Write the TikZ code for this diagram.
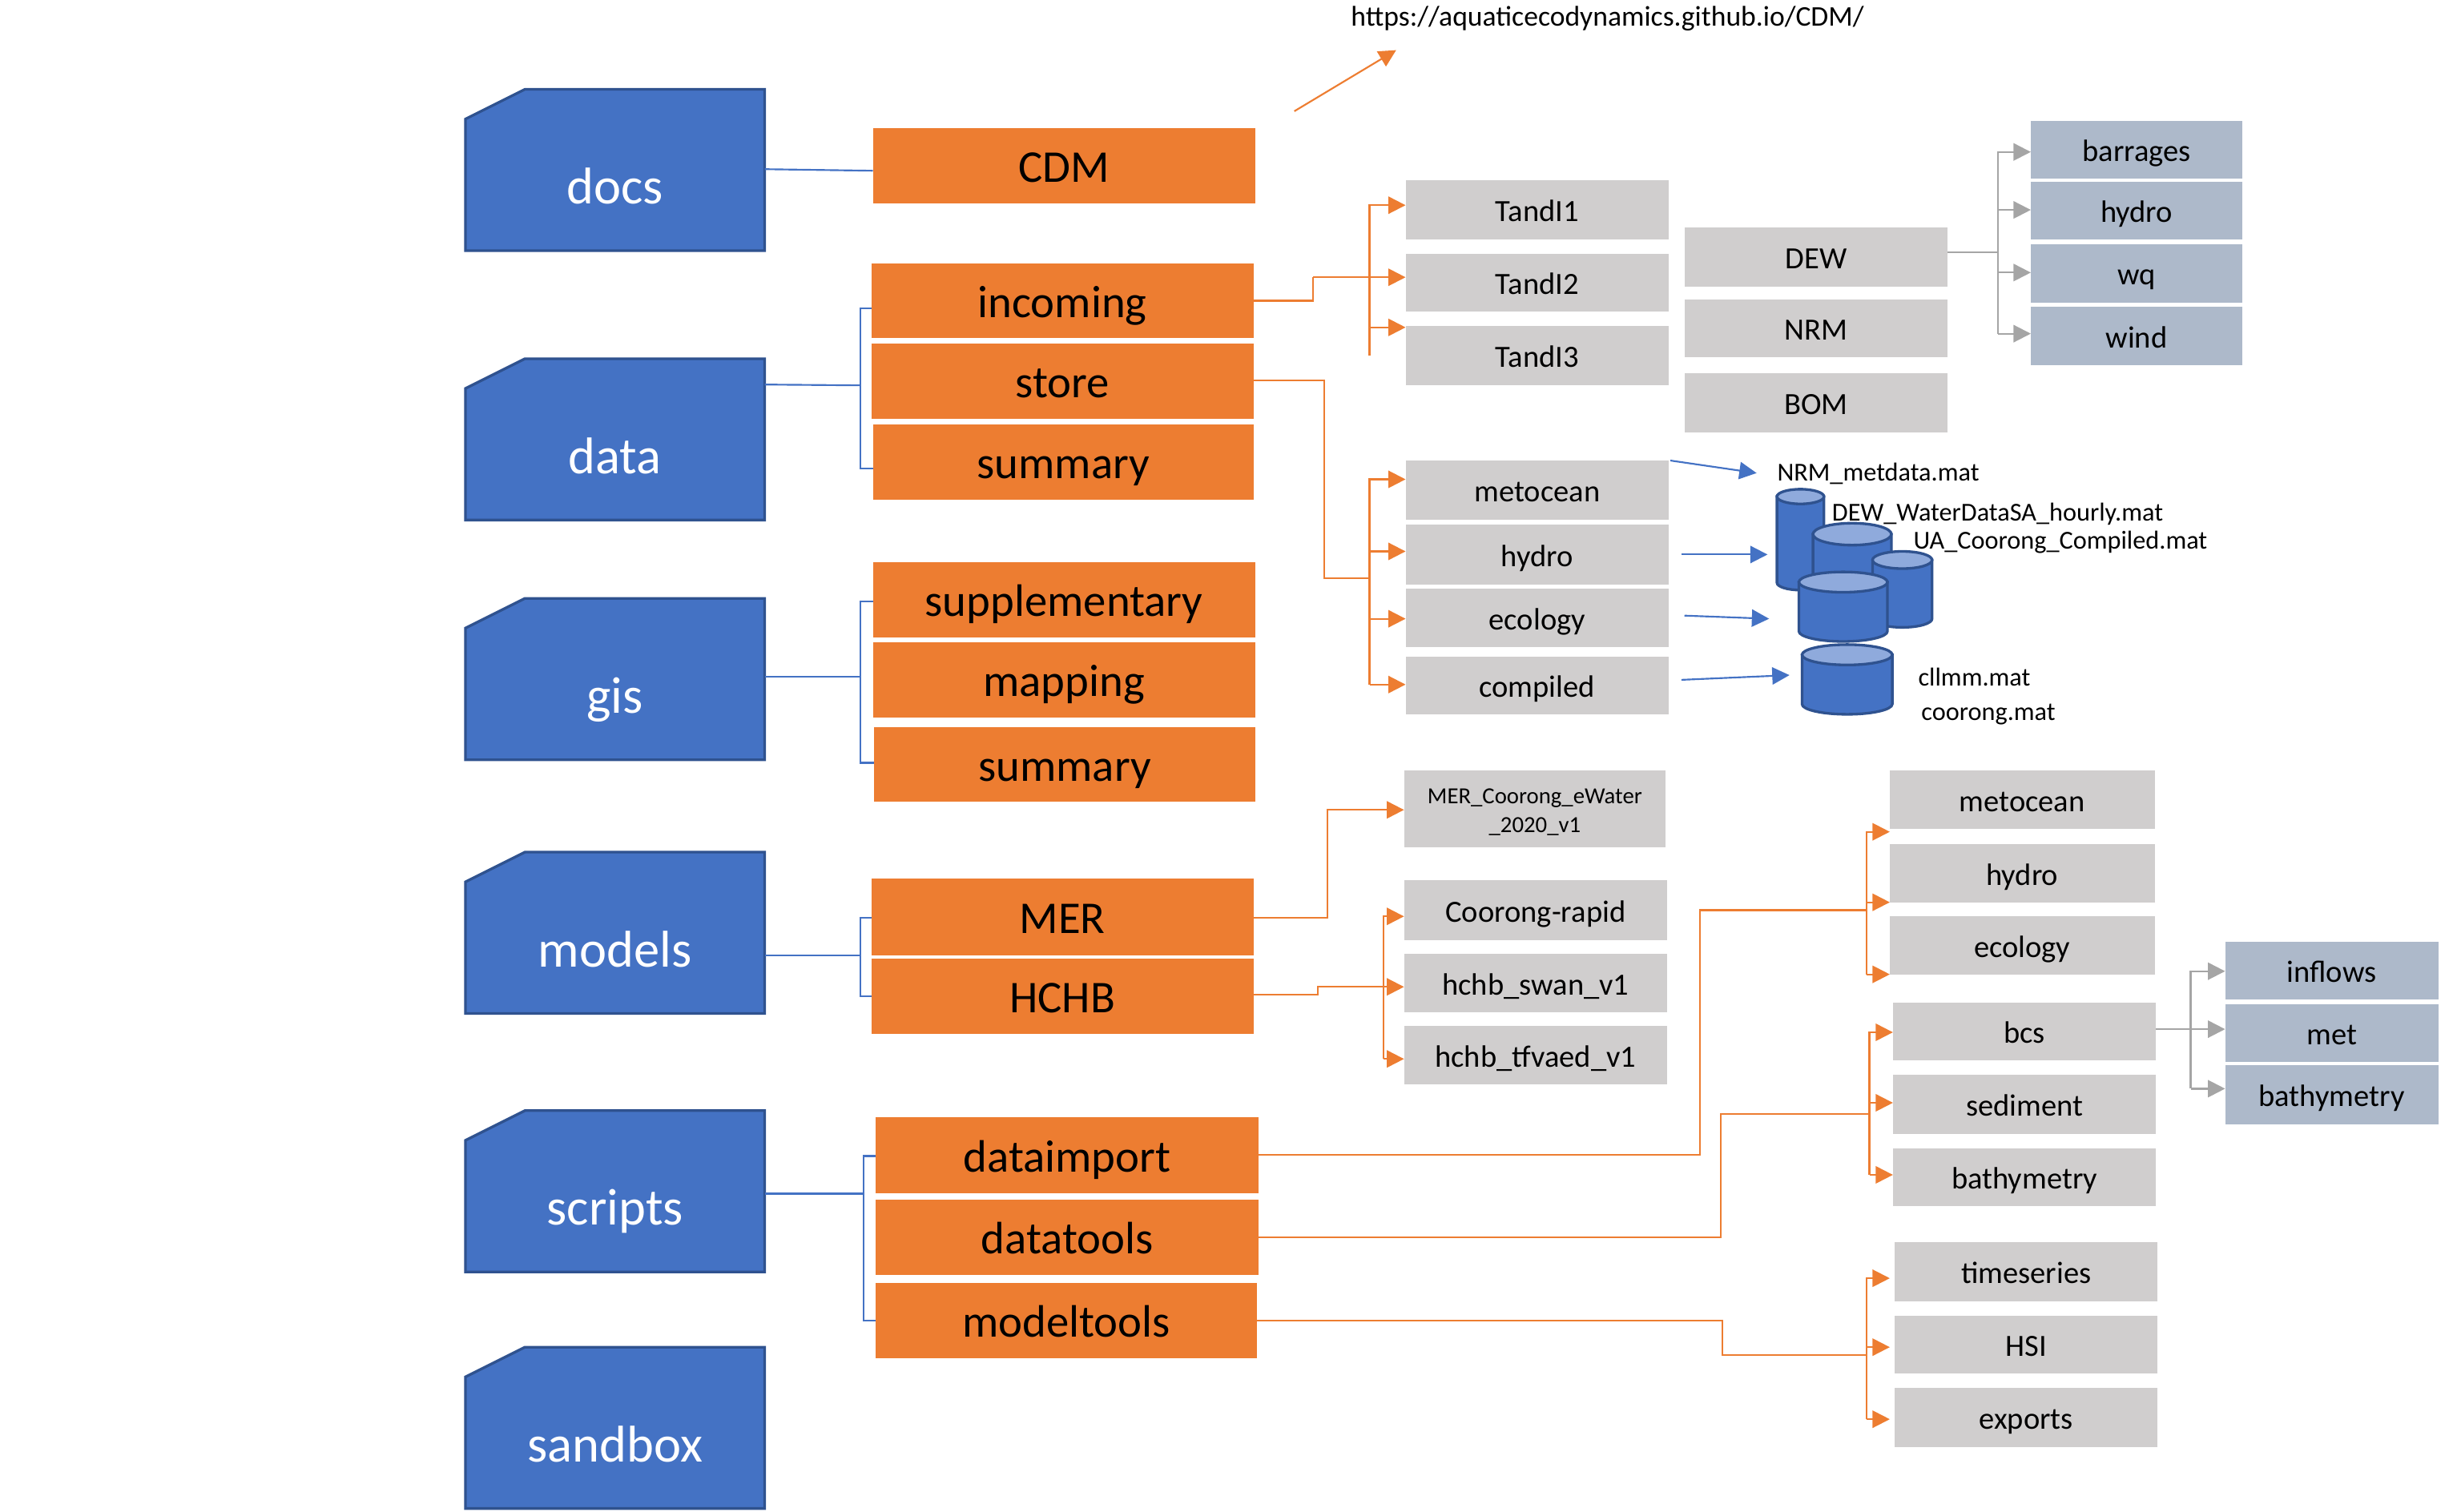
\documentclass[tikz,border=0pt]{standalone}
\usepackage{fontspec}
\setmainfont{Carlito}
\usetikzlibrary{arrows.meta}
\definecolor{cblue}{HTML}{4472C4}
\definecolor{cdark}{HTML}{2F528F}
\definecolor{clight}{HTML}{8FAADC}
\definecolor{corange}{HTML}{ED7D31}
\definecolor{cgray}{HTML}{D0CECE}
\definecolor{cbgray}{HTML}{ADB9CA}
\definecolor{carrow}{HTML}{A5A5A5}
\tikzset{
  x=1pt,y=-1pt,
  box/.style={rectangle,inner sep=0pt,outer sep=0pt,text=black,align=center},
  obox/.style={box,fill=corange,font=\fontsize{29}{32}\selectfont,text height=26pt,text depth=5pt},
  gbox/.style={box,fill=cgray,font=\fontsize{19.7}{22}\selectfont,text height=19pt,text depth=4pt},
  mbox/.style={box,fill=cgray,font=\fontsize{14.7}{18}\selectfont},
  bbox/.style={box,fill=cbgray,font=\fontsize{19.7}{22}\selectfont,text height=19pt,text depth=4pt},
  fshape/.style={fill=cblue,draw=cdark,line width=1.7pt},
  ftext/.style={text=white,font=\fontsize{33}{36}\selectfont,anchor=base,inner sep=0pt},
  filetext/.style={anchor=base west,inner sep=0pt,font=\fontsize{16.5}{18}\selectfont,text=black},
  tree/.style={draw=corange,line width=1.1pt},
  treearrow/.style={tree,-{Triangle[length=11pt,width=11pt]}},
  gtree/.style={draw=carrow,line width=1.1pt},
  gtreearrow/.style={gtree,-{Triangle[length=11pt,width=11pt]}},
  btree/.style={draw=cblue,line width=1.1pt},
  btreearrow/.style={btree,-{Triangle[length=11pt,width=11pt]}},
}
% name, x0, y0, text
\newcommand{\folder}[4]{%
  \draw[fshape] (#2,#3+19) -- (#2+38,#3) -- (#2+191,#3) -- (#2+191,#3+103) -- (#2,#3+103) -- cycle;
  \node[box,minimum width=191pt,minimum height=103pt] (#1) at (#2+95.5,#3+51.5) {};
  \node[ftext] (#1t) at (#2+95.5,#3+73.2) {#4};
}
% style, name, x0, x1, y0, y1, text
\newcommand{\bx}[7]{%
  \node[#1,minimum width={(#4-#3)*1pt},minimum height={(#6-#5)*1pt}] (#2) at ({(#3+#4)/2},{(#5+#6)/2}) {#7};
}
% x0,x1,ytop,ybot,ry
\newcommand{\cyl}[5]{%
  \draw[fill=cblue,draw=cdark,line width=1.7pt] (#1,#3) -- (#1,#4) arc[start angle=180,end angle=360,x radius={(#2-#1)/2*1pt},y radius=#5*1pt] -- (#2,#3) -- cycle;
  \draw[fill=clight,draw=cdark,line width=1.7pt] ({(#1+#2)/2},#3) ellipse[x radius={(#2-#1)/2*1pt},y radius=#5*1pt];
}
\begin{document}
\begin{tikzpicture}
\useasboundingbox (0,0) rectangle (1568,965.2);
% folders
\folder{docs}{297}{57}{docs}
\folder{data}{297}{229}{data}
\folder{gis}{297}{382}{gis}
\folder{models}{297}{544}{models}
\folder{scripts}{297}{709}{scripts}
\folder{sandbox}{297}{860}{sandbox}
% orange
\bx{obox}{cdm}{557}{801}{82}{130}{CDM}
\bx{obox}{incoming}{556}{800}{168}{216}{incoming}
\bx{obox}{store}{556}{800}{219.5}{267.5}{store}
\bx{obox}{summaryA}{557}{800}{271}{319}{summary}
\bx{obox}{supp}{557}{801}{359}{407}{supplementary}
\bx{obox}{mapping}{557}{801}{410}{458}{mapping}
\bx{obox}{summaryB}{558}{801}{464}{512}{summary}
\bx{obox}{mer}{556}{800}{561}{610}{MER}
\bx{obox}{hchb}{556}{800}{612}{660}{HCHB}
\bx{obox}{dataimport}{559}{803}{713}{762}{dataimport}
\bx{obox}{datatools}{559}{803}{766}{814}{datatools}
\bx{obox}{modeltools}{559}{802}{819}{867}{modeltools}
% gray
\bx{gbox}{tandA}{897}{1065}{115}{153}{TandI1}
\bx{gbox}{tandB}{897}{1065}{162}{199}{TandI2}
\bx{gbox}{tandC}{897}{1065}{208}{246}{TandI3}
\bx{gbox}{dew}{1075}{1243}{145}{183}{DEW}
\bx{gbox}{nrm}{1075}{1243}{191}{228}{NRM}
\bx{gbox}{bom}{1075}{1243}{238}{276}{BOM}
\bx{bbox}{barrages}{1296}{1431}{77}{114}{barrages}
\bx{bbox}{hydroB}{1296}{1431}{116}{153}{hydro}
\bx{bbox}{wq}{1296}{1431}{156}{193}{wq}
\bx{bbox}{wind}{1296}{1431}{196}{233}{wind}
\bx{gbox}{metoceanA}{897}{1065}{294}{332}{metocean}
\bx{gbox}{hydroA}{897}{1065}{335}{373}{hydro}
\bx{gbox}{ecologyA}{897}{1065}{376}{413}{ecology}
\bx{gbox}{compiled}{897}{1065}{419}{456}{compiled}
\bx{mbox,label={[yshift=-2pt,align=center,inner sep=0pt,font=\fontsize{14.7}{18}\selectfont]center:{MER\_Coorong\_eWater\\\_2020\_v1}}}{merfile}{896}{1063}{492}{541}{}
\bx{gbox}{rapid}{896}{1064}{562}{600}{Coorong-rapid}
\bx{gbox}{swan}{896}{1064}{609}{646}{hchb\_swan\_v1}
\bx{gbox}{tfvaed}{896}{1064}{655}{692}{hchb\_tfvaed\_v1}
\bx{gbox}{metoceanC}{1206}{1375}{492}{529}{metocean}
\bx{gbox}{hydroC}{1206}{1375}{539}{576}{hydro}
\bx{gbox}{ecologyC}{1206}{1375}{585}{622}{ecology}
\bx{gbox}{bcs}{1208}{1376}{640}{677}{bcs}
\bx{gbox}{sediment}{1208}{1376}{686}{724}{sediment}
\bx{gbox}{bathyA}{1208}{1376}{733}{770}{bathymetry}
\bx{gbox}{timeseries}{1209}{1377}{793}{831}{timeseries}
\bx{gbox}{hsi}{1209}{1377}{840}{877}{HSI}
\bx{gbox}{exports}{1209}{1377}{886}{924}{exports}
\bx{bbox}{inflows}{1420}{1556}{601}{638}{inflows}
\bx{bbox}{met}{1420}{1556}{641}{678}{met}
\bx{bbox}{bathyB}{1420}{1556}{680}{718}{bathymetry}
% texts
\node[filetext,font=\fontsize{18.2}{20}\selectfont] (url) at (862,16.5) {https://aquaticecodynamics.github.io/CDM/};
\node[filetext] (fnrm) at (1134,307) {NRM\_metdata.mat};
% cylinders
\cyl{1134}{1164}{317}{372}{4.7}
\cyl{1157}{1207}{341}{374}{7}
\cyl{1195}{1233}{357.5}{395}{5.5}
\cyl{1148}{1204.5}{371.6}{403}{6.5}
\cyl{1150}{1207.6}{418}{449.5}{6.5}
\node[filetext] (fdew) at (1169,332.5) {DEW\_WaterDataSA\_hourly.mat};
\node[filetext] (fua) at (1221,350.7) {UA\_Coorong\_Compiled.mat};
\node[filetext] (fcllmm) at (1224,438) {cllmm.mat};
\node[filetext] (fcoorong) at (1226,460) {coorong.mat};
% free ends
\coordinate (urlS) at (826,71); \coordinate (urlE) at (891,32);
\coordinate (bAs) at (1066,294); \coordinate (bAe) at (1121,302);
\coordinate (bBs) at (1073,354); \coordinate (bBe) at (1128,354);
\coordinate (bCs) at (1075,393); \coordinate (bCe) at (1129,395);
\coordinate (bDs) at (1073,434); \coordinate (bDe) at (1142,431);
% blue links
\draw[btree] (488,108) -- (cdm.west |- 0,109);
\draw[btree] (488,245.5) -- (549,246);
\draw[btree] (incoming.west |- 0,197) -- (549,197) -- (549,299) -- (summaryA.west |- 0,299);
\draw[btree] (488,432) -- (549,432);
\draw[btree] (supp.west |- 0,384) -- (549,384) -- (549,487) -- (summaryB.west |- 0,487);
\draw[btree] (488,610) -- (549,610);
\draw[btree] (mer.west |- 0,586) -- (549,586) -- (549,636) -- (hchb.west);
\draw[btree] (488,762) -- (551,762);
\draw[btree] (dataimport.west |- 0,738) -- (551,738) -- (551,843) -- (modeltools.west);
% URL
\draw[treearrow] (urlS) -- (urlE);
% incoming
\draw[tree] (incoming.east |- 0,192) -- (838,192) -- (838,177);
\draw[treearrow] (838,177) -- (tandB.west |- 0,177);
\draw[treearrow] (874,227) -- (874,131) -- (tandA.west |- 0,131);
\draw[treearrow] (874,209) -- (tandC.west |- 0,209);
% store
\draw[tree] (store.east |- 0,243) -- (845,243) -- (845,369) -- (874,369);
\draw[treearrow] (874,437) -- (874,306) -- (metoceanA.west |- 0,306);
\draw[treearrow] (874,352) -- (hydroA.west |- 0,352);
\draw[treearrow] (874,395) -- (ecologyA.west |- 0,395);
\draw[treearrow] (874,437) -- (compiled.west |- 0,437);
% MER
\draw[treearrow] (mer.east |- 0,586) -- (847,586) -- (847,517) -- (merfile.west |- 0,517);
% HCHB
\draw[treearrow] (hchb.east |- 0,635) -- (841,635) -- (841,630) -- (swan.west |- 0,630);
\draw[treearrow] (883,676) -- (883,585) -- (rapid.west |- 0,585);
\draw[treearrow] (883,676) -- (tfvaed.west |- 0,676);
% dataimport
\draw[tree] (dataimport.east |- 0,737) -- (1085,737) -- (1085,581) -- (1191,581);
\draw[treearrow] (1191,622) -- (1191,531) -- (metoceanC.west |- 0,531);
\draw[treearrow] (1191,576) -- (hydroC.west |- 0,576);
\draw[treearrow] (1191,622) -- (ecologyC.west |- 0,622);
% datatools
\draw[tree] (datatools.east |- 0,790) -- (1098,790) -- (1098,711) -- (1193,711);
\draw[treearrow] (1193,750) -- (1193,659) -- (bcs.west |- 0,659);
\draw[treearrow] (1193,704) -- (sediment.west |- 0,704);
\draw[treearrow] (1193,750) -- (bathyA.west |- 0,750);
% modeltools
\draw[tree] (modeltools.east |- 0,843) -- (1099,843) -- (1099,865) -- (1191,865);
\draw[treearrow] (1191,906) -- (1191,816) -- (1206,816);
\draw[treearrow] (1191,860) -- (1206,860);
\draw[treearrow] (1191,906) -- (1206,906);
% grey
\draw[gtree] (dew.east |- 0,161) -- (1275,161);
\draw[gtreearrow] (1275,213) -- (1275,97) -- (barrages.west |- 0,97);
\draw[gtreearrow] (1275,134) -- (hydroB.west |- 0,134);
\draw[gtreearrow] (1275,174) -- (wq.west |- 0,174);
\draw[gtreearrow] (1275,213) -- (wind.west |- 0,213);
\draw[gtree] (bcs.east |- 0,657) -- (1398,657);
\draw[gtreearrow] (1398,695) -- (1398,620) -- (inflows.west |- 0,620);
\draw[gtreearrow] (1398,657) -- (met.west |- 0,657);
\draw[gtreearrow] (1398,695) -- (bathyB.west |- 0,695);
% blue arrows
\draw[btreearrow] (bAs) -- (bAe);
\draw[btreearrow] (bBs) -- (bBe);
\draw[btreearrow] (bCs) -- (bCe);
\draw[btreearrow] (bDs) -- (bDe);
\end{tikzpicture}
\end{document}
